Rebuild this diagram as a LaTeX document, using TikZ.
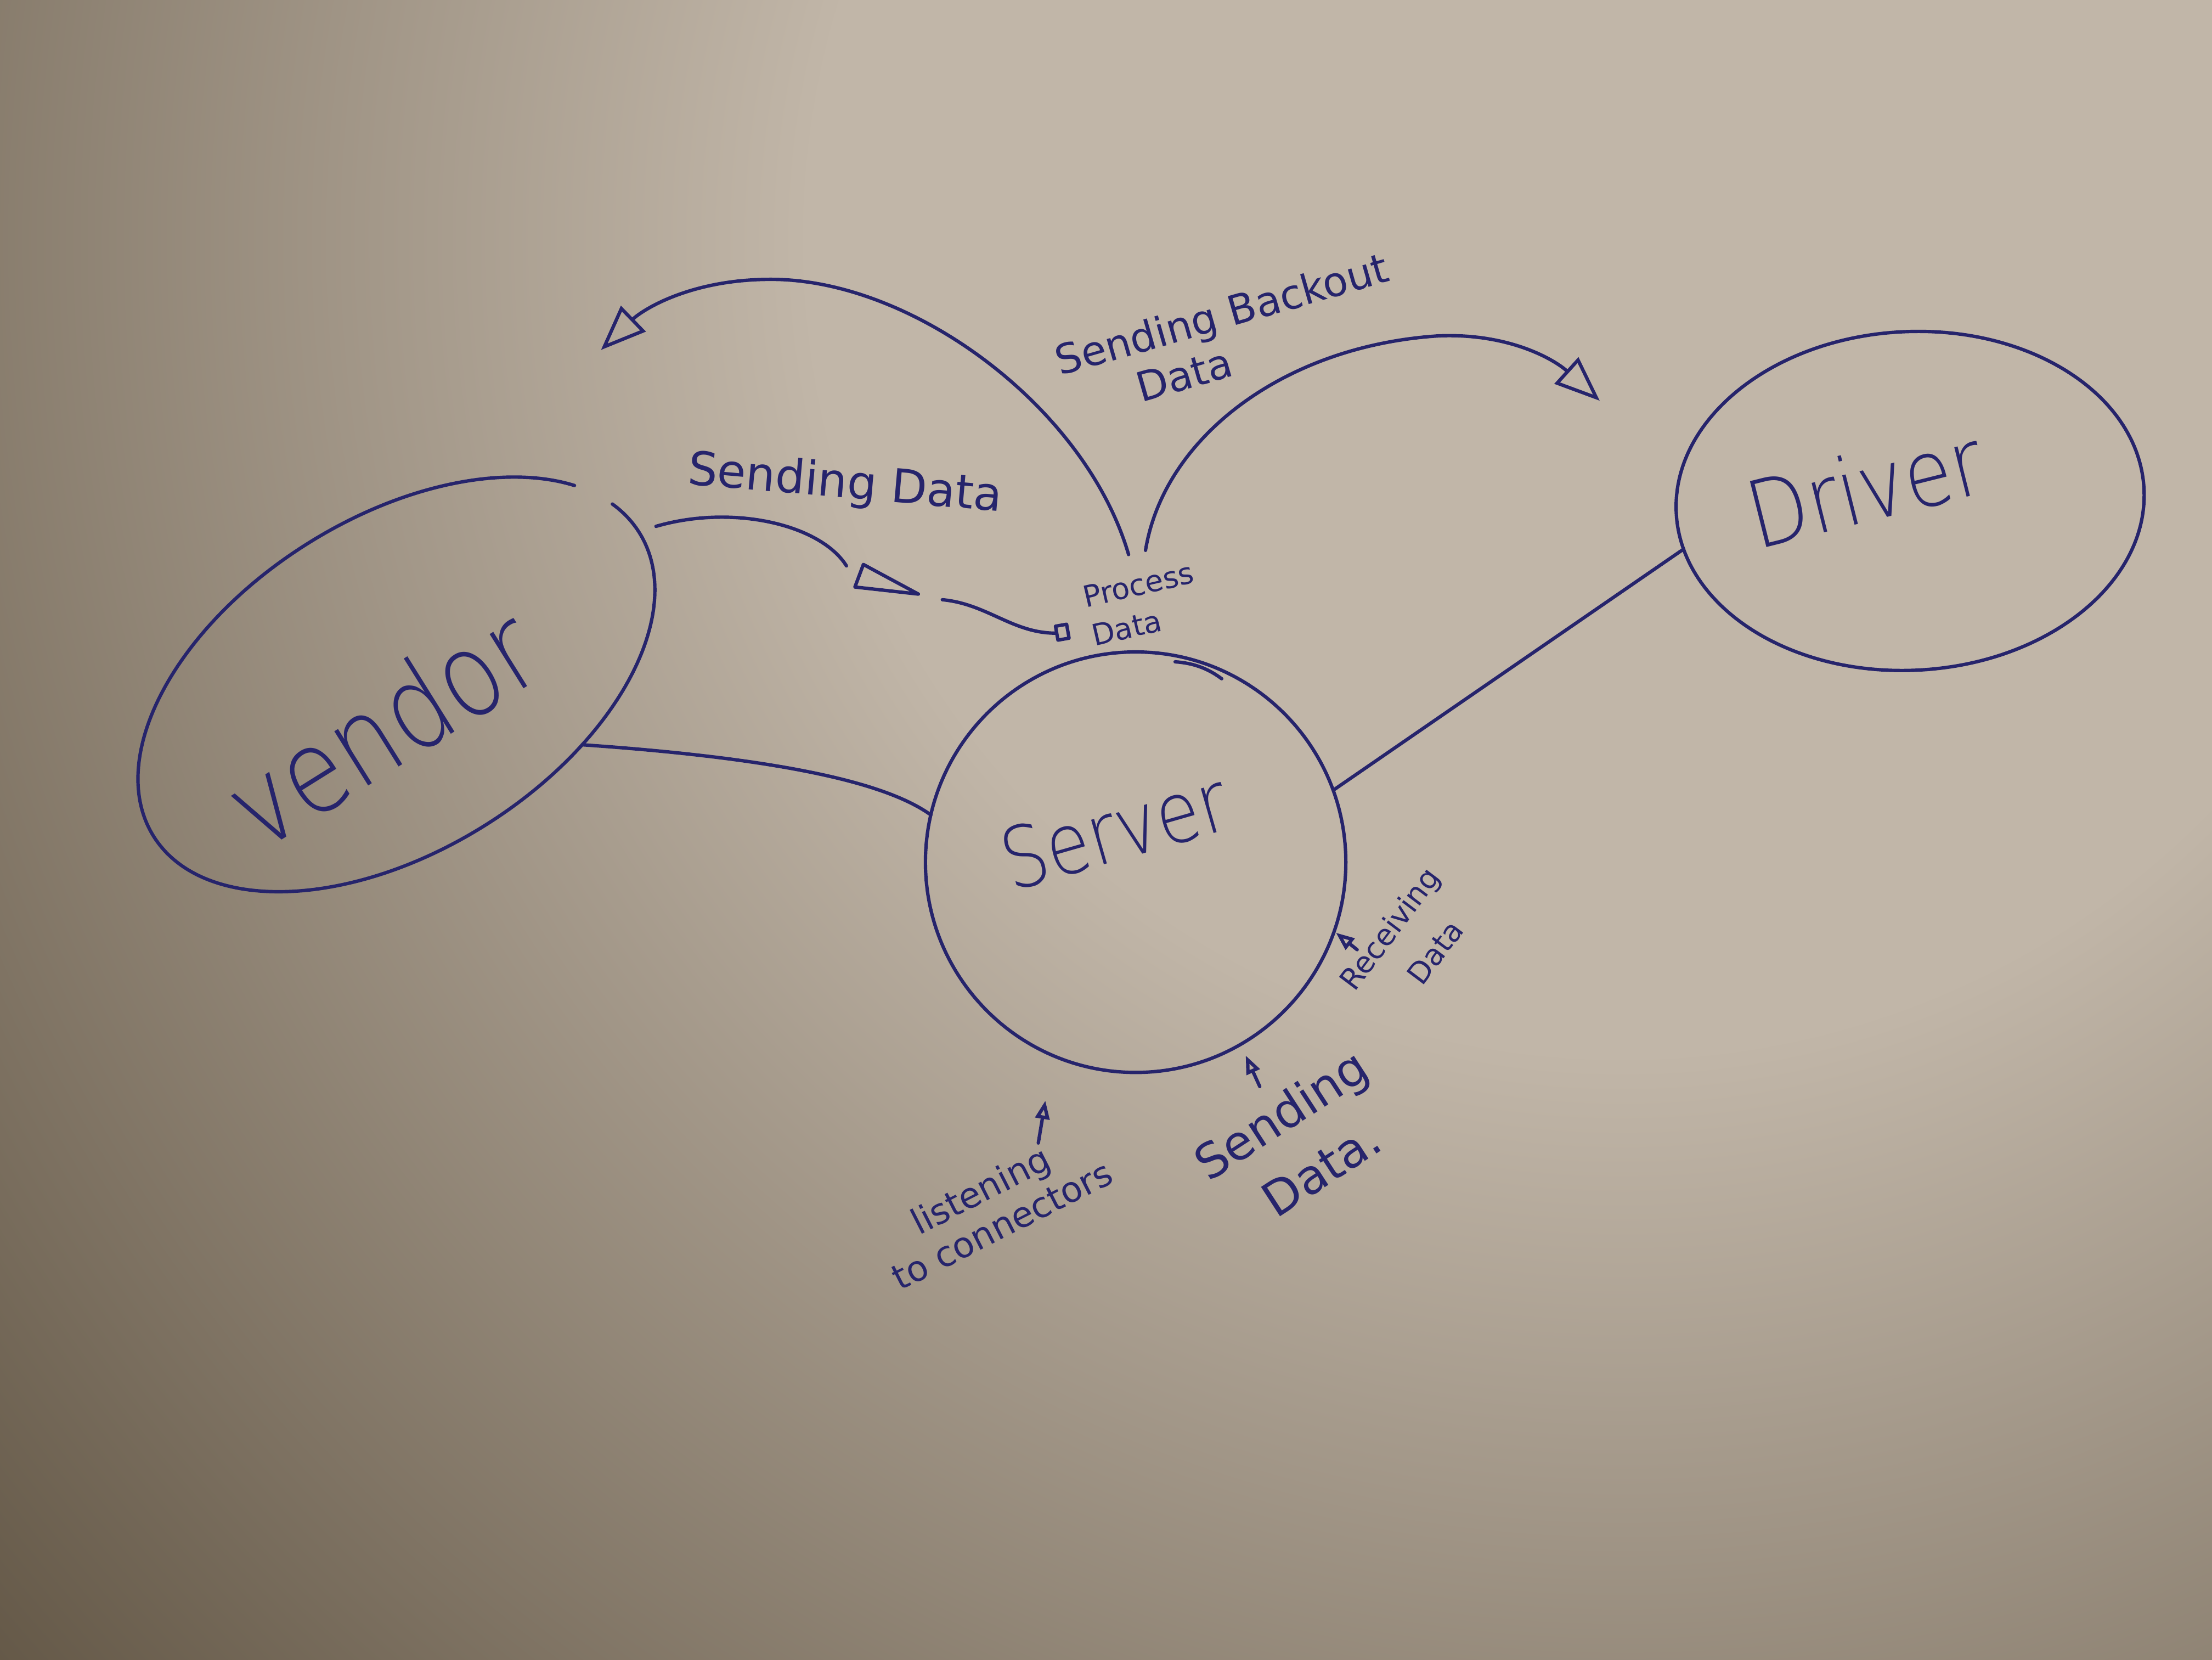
\documentclass[tikz,border=0pt]{standalone}
\usepackage{fontspec}
\newfontfamily\handfont{DejaVu Sans}
\newfontfamily\handthin{DejaVu Sans ExtraLight}
\usetikzlibrary{arrows.meta,shapes.geometric}

\definecolor{ink}{RGB}{38,36,108}
\definecolor{paperlight}{RGB}{193,182,168}
\definecolor{paperdark}{RGB}{94,82,65}
% paper lit from the upper right, darker towards the lower left
\pgfdeclareradialshading{paper}{\pgfpoint{0bp}{0bp}}{%
  color(0bp)=(paperlight); color(9bp)=(paperlight);
  color(25bp)=(paperdark); color(50bp)=(paperdark)}

\begin{document}
\begin{tikzpicture}[x=1pt,y=-1pt,
  pen/.style={draw=ink, line width=2.4pt, line cap=round, line join=round},
  bubble/.style={pen, inner sep=0pt, outer sep=0pt},
  % multi-line labels are placed by the start of their last baseline
  label/.style={text=ink, inner sep=0pt, outer sep=0pt, align=left, anchor=base west},
  small/.style 2 args={font={\handfont\fontsize{#1}{#2}\selectfont}},
  big/.style={font={\handthin\fontsize{#1}{#1}\selectfont}},
  tilt/.style={rotate=#1, yscale=1.2},
  bighead/.style={-{Triangle[open,length=32pt,width=25pt]}},
  tinyhead/.style={-{Triangle[open,length=13pt,width=10pt]}}
]
\useasboundingbox (0,0) rectangle (1568,1176);
\fill[paperdark] (0,0) rectangle (1568,1176);
\begin{scope}
  \clip (0,0) rectangle (1568,1176);
  \shade[shading=paper] (1150,170) circle (1600);
\end{scope}

% the three parties
\node[bubble, ellipse, minimum width=406, minimum height=236, rotate=32,
      dash pattern=on 28pt off 30pt on 1100pt off 0pt] (vendor) at (281,485) {};
\node[bubble, circle, minimum size=298] (server) at (805,611) {};
\node[bubble, ellipse, minimum width=332, minimum height=240, rotate=3] (driver) at (1354,355) {};
\draw[pen] (833,469) .. controls (848,470) and (858,475) .. (866,481);

\node[label, anchor=center, big=69, tilt=32] (vendorname) at (270,515) {vendor};
\node[label, anchor=center, big=50, tilt=16] (servername) at (790,588) {Server};
\node[label, anchor=center, big=55, tilt=14] (drivername) at (1322,345) {Driver};

% links between the parties
\draw[pen] (vendor.-50) .. controls (560,538) and (630,556) .. (server.167);
\draw[pen] (server.20) -- (driver.189);

% vendor data flowing in to be processed
\coordinate (sdstart) at (465,373);
\coordinate (sdmid) at (668,425);
\node[bubble, rectangle, minimum width=8, minimum height=10, rotate=10] (pdbox) at (753,448) {};
\draw[pen] (sdstart) .. controls (520,357) and (582,372) .. (600,401);
\draw[pen] (612,400) -- (606,416) -- (651,421) -- cycle;
\draw[pen] (sdmid) .. controls (700,428) and (718,449) .. (pdbox.west);
\node[label, small={33}{33}, rotate=-5] (sendlabel) at (487,343) {Sending Data};

\node[label, small={21}{28}, rotate=13] (proclabel) at (776,458) {Process\\Data};

% processed data sent back out to both sides
\coordinate (backL) at (800,393);
\coordinate (backR) at (812,390);
\coordinate (tipL) at (426,248);
\coordinate (tipR) at (1134,284);
\draw[pen, bighead] (backL) .. controls (770,290) and (650,200) .. (550,198)
                            .. controls (490,197) and (455,220) .. (tipL);
\draw[pen, bighead] (backR) .. controls (825,310) and (910,245) .. (1020,238)
                            .. controls (1070,236) and (1102,255) .. (tipR);
\node[label, small={29}{34}, rotate=16] (backlabel) at (761,299)
  {Sending Backout\\\hspace*{50pt}Data};

% notes under the server
\draw[pen, tinyhead] (736,810) -- (741,780);
\draw[pen, tinyhead] (893,770) -- (883,748);
\draw[pen, tinyhead] (962,673) -- (947,661);

\node[label, small={25}{29}, rotate=27] (listenlabel) at (638,915)
  {\hspace*{30pt}listening\\to connectors};

\node[label, small={34}{48}, rotate=33] (outlabel) at (883,878)
  {Sending\\\hspace*{26pt}Data.};

\node[label, small={21}{36}, rotate=53] (recvlabel) at (989,725)
  {Receiving\\\hspace*{32pt}Data};
\end{tikzpicture}
\end{document}
